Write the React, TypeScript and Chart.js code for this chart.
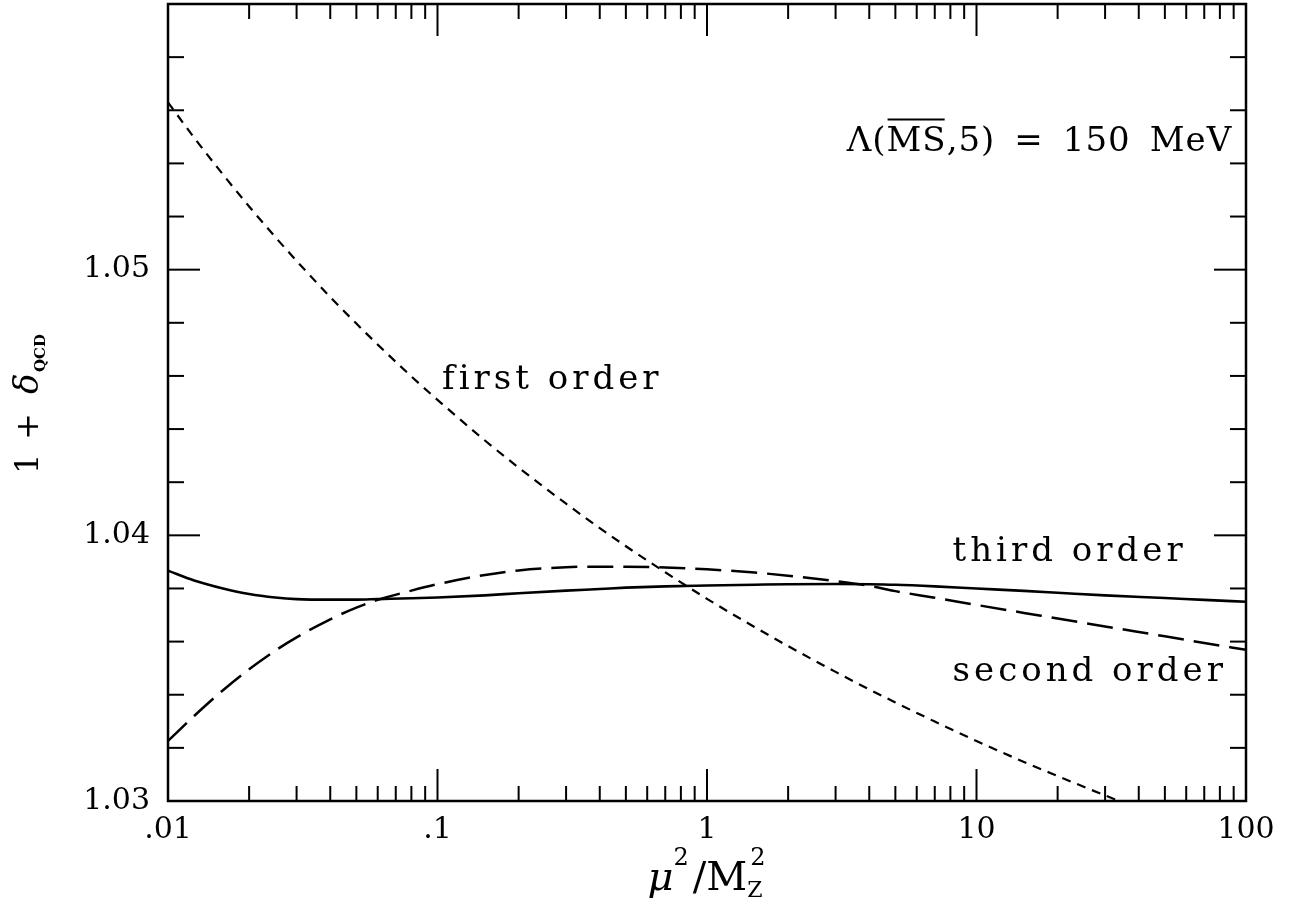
import React, { useEffect, useRef } from "react";
import { Chart, registerables } from "chart.js";

Chart.register(...registerables);

// mu^2 / M_Z^2 sample points
const muSq = [0.01, 0.0125, 0.016, 0.02, 0.025, 0.03, 0.04, 0.05, 0.06, 0.08, 0.1, 0.15, 0.2, 0.3, 0.4, 0.5, 0.7, 1, 1.5, 2, 3, 4, 5, 7, 10, 15, 20, 30, 50, 70, 100];

const firstOrder = [1.0563, 1.05497, 1.05358, 1.05238, 1.05123, 1.05033, 1.04897, 1.04797, 1.04718, 1.04598, 1.0451, 1.04357, 1.04255, 1.04119, 1.04027, 1.03959, 1.03861, 1.03761, 1.03655, 1.03583, 1.03486, 1.0342, 1.03371, 1.03299, 1.03226, 1.03147, 1.03094, 1.03021, 1.02934, 1.0288, 1.02824];

const secondOrder = [1.03226, 1.0332, 1.03417, 1.03496, 1.03566, 1.03616, 1.03684, 1.03728, 1.03757, 1.03792, 1.03816, 1.03851, 1.03868, 1.0388, 1.03882, 1.03882, 1.03879, 1.03872, 1.0386, 1.03848, 1.03828, 1.0381, 1.0379, 1.03765, 1.03738, 1.03708, 1.03687, 1.03657, 1.0362, 1.03595, 1.03569];

const thirdOrder = [1.03867, 1.0383, 1.038, 1.03779, 1.03766, 1.0376, 1.03758, 1.03758, 1.0376, 1.03763, 1.03766, 1.03774, 1.03782, 1.03792, 1.03798, 1.03803, 1.03808, 1.03811, 1.03814, 1.03816, 1.03817, 1.03816, 1.03814, 1.03808, 1.038, 1.03791, 1.03784, 1.03774, 1.03764, 1.03757, 1.0375];

const xTickValues = [0.01, 0.1, 1, 10, 100];
const xTickLabels = [".01", ".1", "1", "10", "100"];
const yTickValues = [1.03, 1.04, 1.05];
const yTickLabels = ["1.03", "1.04", "1.05"];
const yMajorMarks = [1.03, 1.04, 1.05];
const yMinorMarks = [1.032, 1.034, 1.036, 1.038, 1.042, 1.044, 1.046, 1.048, 1.052, 1.054, 1.056, 1.058];

const curveLabels = [
  { text: "first order", x: 0.104, y: 1.0455 },
  { text: "third order", x: 8.15, y: 1.03902 },
  { text: "second order", x: 8.15, y: 1.0345 },
];
const lambdaLabel = { x: 3.3, y: 1.05445 };

const SERIF = "'DejaVu Serif', serif";

const decorPlugin = {
  id: "decor",
  afterDraw(chart: any) {
    const { ctx, chartArea: a, scales } = chart;
    const xs = scales.x;
    const ys = scales.y;
    ctx.save();
    ctx.strokeStyle = "#000";
    ctx.fillStyle = "#000";
    ctx.lineCap = "butt";
    const seg = (x1: number, y1: number, x2: number, y2: number) => {
      ctx.beginPath();
      ctx.moveTo(x1, y1);
      ctx.lineTo(x2, y2);
      ctx.stroke();
    };
    ctx.lineWidth = 2;
    // x ticks (bottom and top, inward)
    for (let d = -2; d < 2; d++) {
      for (let k = 1; k <= 9; k++) {
        const v = k * Math.pow(10, d);
        if (v <= 0.01 || v >= 100) continue;
        const len = k === 1 ? 32 : 15;
        const px = xs.getPixelForValue(v);
        seg(px, a.bottom, px, a.bottom - len);
        seg(px, a.top, px, a.top + len);
      }
    }
    // y ticks (left and right, inward)
    const yTick = (v: number, len: number) => {
      const py = ys.getPixelForValue(v);
      seg(a.left, py, a.left + len, py);
      seg(a.right, py, a.right - len, py);
    };
    yMajorMarks.forEach((v) => yTick(v, 32));
    yMinorMarks.forEach((v) => yTick(v, 16));
    // frame
    ctx.lineWidth = 2.5;
    ctx.strokeRect(a.left, a.top, a.right - a.left, a.bottom - a.top);

    // curve labels
    ctx.font = `34px ${SERIF}`;
    (ctx as any).letterSpacing = "4px";
    ctx.textAlign = "left";
    ctx.textBaseline = "alphabetic";
    curveLabels.forEach((l) => {
      ctx.fillText(l.text, xs.getPixelForValue(l.x), ys.getPixelForValue(l.y));
    });

    // Lambda label
    (ctx as any).letterSpacing = "1px";
    let lx = xs.getPixelForValue(lambdaLabel.x);
    const ly = ys.getPixelForValue(lambdaLabel.y);
    const p1 = "Λ(";
    ctx.fillText(p1, lx, ly);
    lx += ctx.measureText(p1).width;
    const p2 = "MS";
    ctx.fillText(p2, lx, ly);
    const w2 = ctx.measureText(p2).width;
    ctx.lineWidth = 2;
    seg(lx + 1, ly - 32, lx + w2 - 2, ly - 32);
    lx += w2;
    const p3 = ",5)";
    ctx.fillText(p3, lx, ly);
    lx += ctx.measureText(p3).width + 19;
    ctx.fillText("=", lx, ly);
    lx += ctx.measureText("=").width + 19;
    ctx.fillText("150", lx, ly);
    lx += ctx.measureText("150").width + 19;
    ctx.fillText("MeV", lx, ly);

    // y axis title: 1 + delta_QCD (rotated)
    ctx.save();
    ctx.translate(38, 474);
    ctx.rotate(-Math.PI / 2);
    (ctx as any).letterSpacing = "0px";
    ctx.font = `32px ${SERIF}`;
    ctx.fillText("1", 0, 0);
    ctx.fillText("+", 34, 0);
    ctx.font = `italic 34px ${SERIF}`;
    ctx.fillText("δ", 80, 0);
    ctx.font = `bold 15px ${SERIF}`;
    ctx.fillText("QCD", 102, 7);
    ctx.restore();

    // x axis title: mu^2 / M_Z^2
    (ctx as any).letterSpacing = "0px";
    const measure = () => {
      let w = 0;
      ctx.font = `italic 40px ${SERIF}`;
      w += ctx.measureText("μ").width;
      ctx.font = `24px ${SERIF}`;
      w += ctx.measureText("2").width + 4;
      ctx.font = `40px ${SERIF}`;
      w += ctx.measureText("/M").width;
      ctx.font = `22px ${SERIF}`;
      w += ctx.measureText("Z").width;
      return w;
    };
    const partsW = measure();
    let tx = 705 - partsW / 2;
    const tb = 890;
    ctx.font = `italic 40px ${SERIF}`;
    ctx.fillText("μ", tx, tb);
    tx += ctx.measureText("μ").width;
    ctx.font = `24px ${SERIF}`;
    ctx.fillText("2", tx, tb - 25);
    tx += ctx.measureText("2").width + 4;
    ctx.font = `40px ${SERIF}`;
    ctx.fillText("/M", tx, tb);
    tx += ctx.measureText("/M").width;
    ctx.font = `22px ${SERIF}`;
    ctx.fillText("Z", tx, tb + 7);
    ctx.font = `24px ${SERIF}`;
    ctx.fillText("2", tx + 3, tb - 25);
    ctx.restore();
  },
};

export default function App() {
  const ref = useRef<HTMLCanvasElement>(null);
  useEffect(() => {
    const tickFont = { family: SERIF, size: 30 };
    const mk = (arr: number[]) => muSq.map((m, i) => ({ x: m, y: arr[i] }));
    const chart = new Chart(ref.current as HTMLCanvasElement, {
      type: "line",
      data: {
        datasets: [
          {
            label: "first order",
            data: mk(firstOrder),
            borderColor: "#000",
            borderWidth: 2.2,
            borderDash: [9, 7],
            pointRadius: 0,
            fill: false,
            cubicInterpolationMode: "monotone",
          },
          {
            label: "second order",
            data: mk(secondOrder),
            borderColor: "#000",
            borderWidth: 2.5,
            borderDash: [26, 10],
            pointRadius: 0,
            fill: false,
            cubicInterpolationMode: "monotone",
          },
          {
            label: "third order",
            data: mk(thirdOrder),
            borderColor: "#000",
            borderWidth: 2.6,
            pointRadius: 0,
            fill: false,
            cubicInterpolationMode: "monotone",
          },
        ],
      },
      options: {
        animation: false,
        responsive: false,
        events: [],
        layout: { padding: { left: 0, right: 45, top: 4, bottom: 0 } },
        plugins: { legend: { display: false }, tooltip: { enabled: false } },
        scales: {
          x: {
            type: "logarithmic",
            min: 0.01,
            max: 100,
            afterBuildTicks: (s: any) => {
              s.ticks = xTickValues.map((v) => ({ value: v }));
            },
            afterFit: (s: any) => {
              s.height = 98;
              s.paddingLeft = 0;
              s.paddingRight = 0;
            },
            grid: { display: false, drawTicks: false },
            border: { display: false },
            ticks: {
              autoSkip: false,
              maxRotation: 0,
              padding: 11,
              font: tickFont,
              color: "#000",
              callback: (_v: any, i: number) => xTickLabels[i],
            },
          },
          y: {
            type: "linear",
            min: 1.03,
            max: 1.06,
            afterBuildTicks: (s: any) => {
              s.ticks = yTickValues.map((v) => ({ value: v }));
            },
            afterFit: (s: any) => {
              s.width = 168;
              s.paddingTop = 0;
              s.paddingBottom = 0;
            },
            grid: { display: false, drawTicks: false },
            border: { display: false },
            ticks: {
              padding: 18,
              font: tickFont,
              color: "#000",
              callback: (_v: any, i: number) => yTickLabels[i],
            },
          },
        },
      } as any,
      plugins: [decorPlugin],
    });
    return () => chart.destroy();
  }, []);
  return (
    <div style={{ position: "absolute", left: 0, top: 0, width: 1291, height: 899, background: "#fff" }}>
      <canvas ref={ref} width={1291} height={899} style={{ display: "block", width: 1291, height: 899 }} />
    </div>
  );
}
